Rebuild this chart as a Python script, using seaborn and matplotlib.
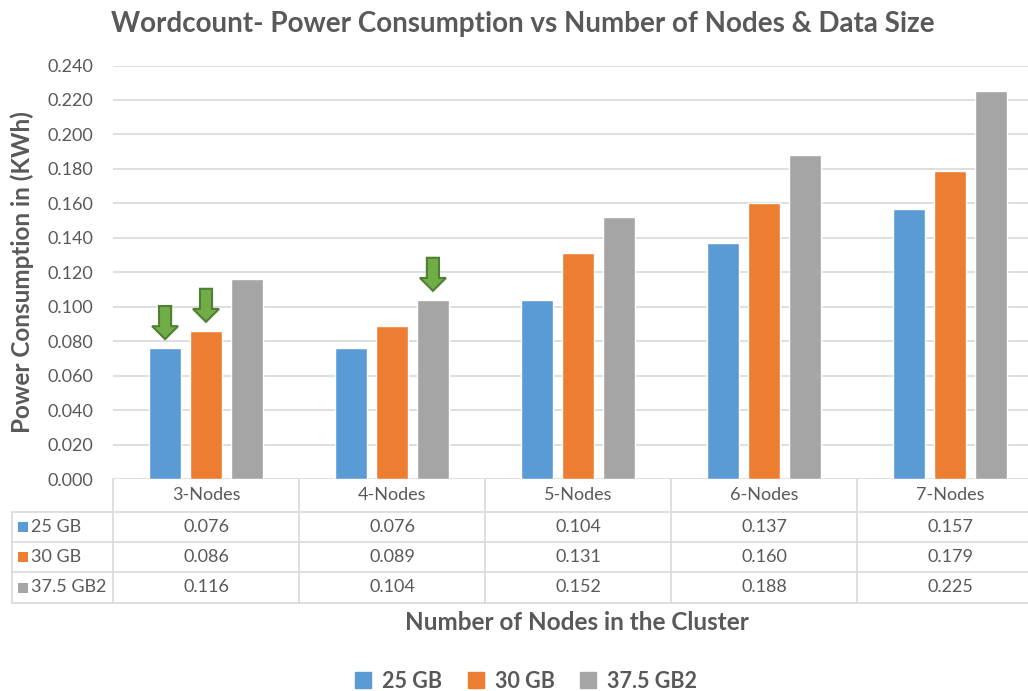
import matplotlib
matplotlib.use("Agg")
import matplotlib.pyplot as plt
import matplotlib.transforms as mtransforms
import numpy as np
import pandas as pd
import seaborn as sns
from matplotlib.lines import Line2D
from matplotlib.patches import FancyArrow, Patch, Rectangle

# ---- data -------------------------------------------------------------
nodes = ["3-Nodes", "4-Nodes", "5-Nodes", "6-Nodes", "7-Nodes"]
sizes = ["25 GB", "30 GB", "37.5 GB2"]
power_25 = [0.076, 0.076, 0.104, 0.137, 0.157]
power_30 = [0.086, 0.089, 0.131, 0.160, 0.179]
power_375 = [0.116, 0.104, 0.152, 0.188, 0.225]
colors = ["#5B9BD5", "#ED7D31", "#A5A5A5"]
# bars highlighted with a green arrow: (node count, data size)
marked = [("3-Nodes", "25 GB"), ("3-Nodes", "30 GB"), ("4-Nodes", "37.5 GB2")]

series = [power_25, power_30, power_375]
df = pd.DataFrame({
    "Nodes": [n for _ in series for n in nodes],
    "Size": [sz for sz in sizes for _ in nodes],
    "Power": [v for s in series for v in s],
})

# ---- style ------------------------------------------------------------
sns.set_theme(style="white")
plt.rcParams["font.family"] = ["Lato", "DejaVu Sans"]
TEXT = "#595959"
GRID = "#D9D9D9"
SMALL = 13

W, H = 1028, 691
fig = plt.figure(figsize=(W / 100, H / 100), dpi=100)


def fx(px):
    return px / W


def fy(py):
    return 1 - py / H


ax = fig.add_axes([fx(113), fy(479), fx(1043) - fx(113), fy(65.5) - fy(479)])
sns.barplot(data=df, x="Nodes", y="Power", hue="Size", order=nodes,
            hue_order=sizes, palette=colors, width=0.66, gap=0.22,
            saturation=1, errorbar=None, legend=False, ax=ax)

ax.set_xlim(-0.5, len(nodes) - 0.5)
ax.set_ylim(0, 0.24)
ax.set_yticks(np.arange(0, 0.2401, 0.02))
ax.yaxis.set_major_formatter(matplotlib.ticker.FormatStrFormatter("%.3f"))
ax.tick_params(axis="y", length=0, pad=14, labelsize=SMALL, labelcolor=TEXT)
ax.set_xticks([])
ax.set_xlabel("")
ax.set_ylabel("")
ax.yaxis.grid(True, color=GRID, lw=1.2)
ax.set_axisbelow(True)
for sp in ax.spines.values():
    sp.set_visible(False)

# ---- green arrows above highlighted bars -------------------------------
for node, size in marked:
    bar = ax.containers[sizes.index(size)][nodes.index(node)]
    cx = bar.get_x() + bar.get_width() / 2
    tip = bar.get_height() + 0.0052
    length = 0.0192
    ax.add_patch(FancyArrow(cx, tip + length, 0, -length, width=0.065,
                            head_width=0.14, head_length=0.0075,
                            length_includes_head=True, fc="#70AD47",
                            ec="#507E32", lw=1.5, zorder=5))

# ---- data table below the plot -----------------------------------------
line_kw = dict(color=GRID, lw=1.2, transform=fig.transFigure)
row_edges = [512, 542, 572, 603]
for y in row_edges:
    fig.add_artist(Line2D([fx(12), 1], [fy(y), fy(y)], **line_kw))
fig.add_artist(Line2D([fx(12), fx(12)], [fy(512), fy(603)], **line_kw))

blend = mtransforms.blended_transform_factory(ax.transData, fig.transFigure)
for i in range(len(nodes) + 1):
    xb = i - 0.5
    fig.add_artist(Line2D([xb, xb], [fy(479), fy(603)], color=GRID, lw=1.2,
                          transform=blend, clip_on=False))

for i, n in enumerate(nodes):
    fig.text(i, fy(495.5), n, transform=blend, ha="center", va="center",
             fontsize=SMALL, color=TEXT)

row_centers = [527, 557, 587.5]
for r, (sz, vals, c) in enumerate(zip(sizes, series, colors)):
    yc = row_centers[r]
    fig.add_artist(Rectangle((fx(18), fy(yc + 5)), fx(10), 10 / H,
                             transform=fig.transFigure, fc=c, ec="none"))
    fig.text(fx(31), fy(yc), sz, ha="left", va="center", fontsize=SMALL,
             color=TEXT)
    for i, v in enumerate(vals):
        fig.text(i, fy(yc), f"{v:.3f}", transform=blend, ha="center",
                 va="center", fontsize=SMALL, color=TEXT)

# ---- titles, labels, legend ---------------------------------------------
fig.text(fx(523), fy(24), "Wordcount- Power Consumption vs Number of Nodes & Data Size",
         ha="center", va="center", fontsize=20, fontweight="bold", color=TEXT)
fig.text(fx(22), fy(272), "Power Consumption in (KWh)", rotation=90,
         ha="center", va="center", fontsize=17.5, fontweight="bold", color=TEXT)
fig.text(fx(577), fy(622), "Number of Nodes in the Cluster", ha="center",
         va="center", fontsize=17.5, fontweight="bold", color=TEXT)

handles = [Patch(color=c, label=s) for s, c in zip(sizes, colors)]
fig.legend(handles=handles, loc="center", bbox_to_anchor=(fx(526), fy(681)),
           ncol=3, frameon=False, prop=dict(weight="bold", size=15.5),
           labelcolor=TEXT, handlelength=0.75, handleheight=0.75,
           columnspacing=1.2, handletextpad=0.5)

fig.savefig("out.png", dpi=100)
